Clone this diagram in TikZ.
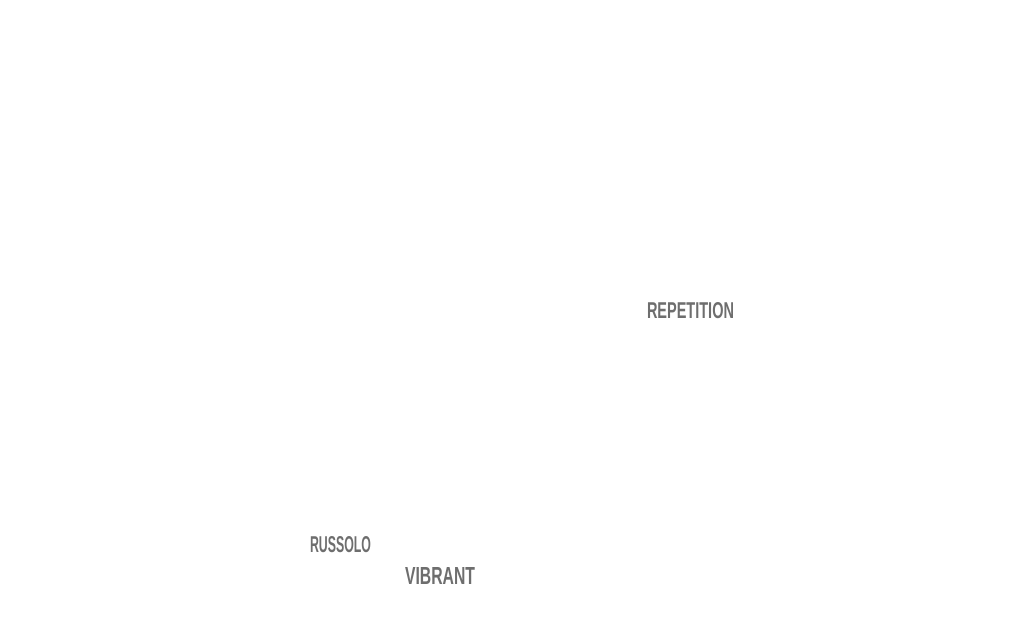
\documentclass[tikz,border=0pt]{standalone}
\usepackage{fontspec}
\setmainfont{Liberation Sans}
\usepackage{graphicx}
\definecolor{labelgray}{HTML}{6E6E6E}
\tikzset{
  handlabel/.style={inner sep=0pt, outer sep=0pt, text=labelgray, font=\bfseries}
}
\begin{document}
\begin{tikzpicture}[x=1pt,y=1pt]
\useasboundingbox (0,0) rectangle (1024,627);
\node[handlabel] (repetition) at (690.5,316.5) {\resizebox{87pt}{16pt}{REPETITION}};
\node[handlabel] (russolo) at (340.5,82) {\resizebox{61pt}{16pt}{RUSSOLO}};
\node[handlabel] (vibrant) at (440,51.5) {\resizebox{70pt}{17pt}{VIBRANT}};
\end{tikzpicture}
\end{document}
